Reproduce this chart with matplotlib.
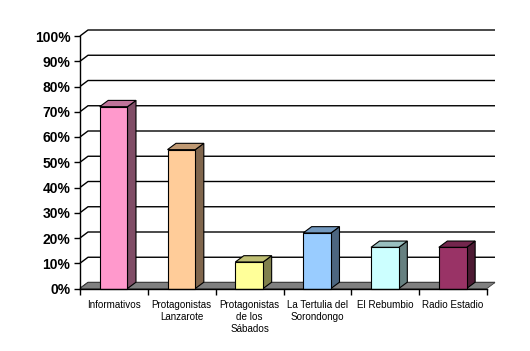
import matplotlib.pyplot as plt
from matplotlib.patches import Polygon
import matplotlib.colors as mcolors

plt.rcParams['font.family'] = ['Liberation Sans', 'DejaVu Sans']

categories = ["Informativos", "Protagonistas\nLanzarote", "Protagonistas\nde los\nSábados",
              "La Tertulia del\nSorondongo", "El Rebumbio", "Radio Estadio"]
values = [0.72, 0.55, 0.105, 0.22, 0.163, 0.163]
colors = ["#FF99CC", "#FFCC99", "#FFFF99", "#99CCFF", "#CCFFFF", "#993366"]
y_ticks = [0, 0.1, 0.2, 0.3, 0.4, 0.5, 0.6, 0.7, 0.8, 0.9, 1.0]
y_labels = [f"{int(round(t * 100))}%" for t in y_ticks]


def shade(c, f):
    r, g, b = mcolors.to_rgb(c)
    return (r * f, g * f, b * f)


fig = plt.figure(figsize=(5.3, 3.51), dpi=100)
ax = fig.add_axes([80 / 530, (351 - 288.5) / 351, 407 / 530, 252.5 / 351])
n = len(categories)
ax.set_xlim(0, n)
ax.set_ylim(0, 1)

# wall depth (data units)
wdx = 8 / (407 / n)
wdy = 6 / 252.5
# bar depth
bdx = 8.5 / (407 / n)
bdy = 6.3 / 252.5

# back wall gridlines
for t in y_ticks:
    ax.plot([0, wdx, n + wdx], [t, t + wdy, t + wdy], color="black", lw=1,
            clip_on=False, zorder=1, solid_capstyle="butt")

# floor
floor = Polygon([(0, 0), (n, 0), (n + wdx, wdy), (wdx, wdy)], closed=True,
                facecolor="#808080", edgecolor="#404040", lw=0.6, zorder=2, clip_on=False)
ax.add_patch(floor)

# bars
for i, (v, c) in enumerate(zip(values, colors)):
    x0 = i + 0.29
    x1 = i + 0.70
    front = Polygon([(x0, 0), (x1, 0), (x1, v), (x0, v)], closed=True,
                    facecolor=c, edgecolor="black", lw=0.8, zorder=5, clip_on=False)
    top = Polygon([(x0, v), (x1, v), (x1 + bdx, v + bdy), (x0 + bdx, v + bdy)], closed=True,
                  facecolor=shade(c, 0.75), edgecolor="black", lw=0.8, zorder=4, clip_on=False)
    side = Polygon([(x1, 0), (x1 + bdx, bdy), (x1 + bdx, v + bdy), (x1, v)], closed=True,
                   facecolor=shade(c, 0.5), edgecolor="black", lw=0.8, zorder=4, clip_on=False)
    ax.add_patch(side)
    ax.add_patch(top)
    ax.add_patch(front)

for s in ["top", "right"]:
    ax.spines[s].set_visible(False)
ax.spines["left"].set_linewidth(1)
ax.spines["bottom"].set_linewidth(1)
ax.spines["left"].set_zorder(6)
ax.spines["bottom"].set_zorder(6)

ax.set_yticks(y_ticks)
ax.set_yticklabels(y_labels, fontsize=10, fontweight="bold")
ax.tick_params(axis="y", direction="out", length=4, width=1, pad=3)

ax.set_xticks(range(n + 1))
ax.set_xticklabels([])
ax.tick_params(axis="x", which="major", direction="out", length=4, width=1)
ax.set_xticks([i + 0.5 for i in range(n)], minor=True)
ax.set_xticklabels(categories, minor=True, fontsize=7.1, linespacing=1.3, va="top")
ax.tick_params(axis="x", which="minor", length=0, pad=8)

ax.set_facecolor("none")
fig.savefig("out.png", dpi=100, facecolor="white")
